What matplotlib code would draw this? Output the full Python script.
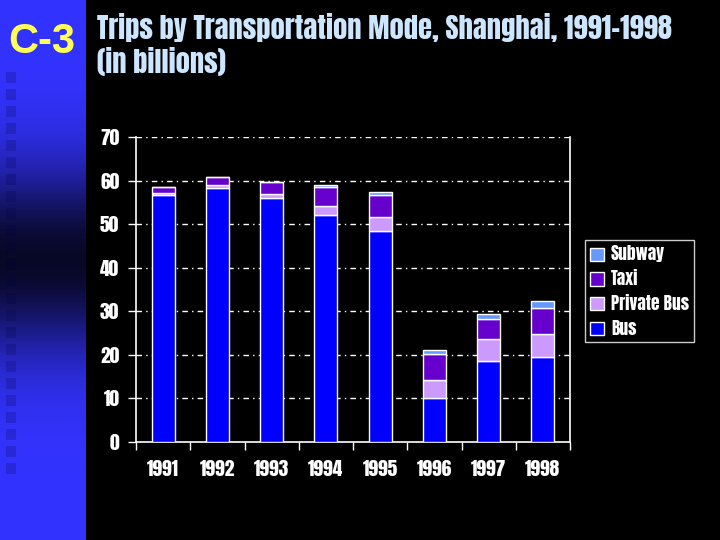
import numpy as np
import matplotlib
matplotlib.use('Agg')
import matplotlib.pyplot as plt
from matplotlib import font_manager
from matplotlib.patches import Rectangle

years = ['1991', '1992', '1993', '1994', '1995', '1996', '1997', '1998']
bus = [56.8, 58.4, 55.9, 52.1, 48.5, 10.0, 18.6, 19.6]
private_bus = [0.3, 0.6, 1.0, 2.1, 3.1, 4.2, 5.0, 5.2]
taxi = [1.35, 1.8, 2.8, 4.4, 5.0, 6.1, 4.7, 6.0]
subway = [0.0, 0.0, 0.0, 0.3, 0.7, 0.9, 1.1, 1.5]

# Impact-like narrow font, take the first one installed
names = {f.name for f in font_manager.fontManager.ttflist}
narrow = 'DejaVu Sans'
for cand in ['Impact', 'Anton', 'Oswald', 'League Gothic', 'Fjalla One', 'Roboto Condensed',
             'Archivo Narrow', 'Pathway Gothic One']:
    if cand in names:
        narrow = cand
        break

fig = plt.figure(figsize=(7.2, 5.4), dpi=100)
fig.patch.set_facecolor('black')

# blue side panel with dark band in the middle
side = fig.add_axes([0, 0, 86 / 720, 1])
ys = np.linspace(0, 1, 300)
dark = np.exp(-((ys - 0.48) / 0.17) ** 2)
col = np.zeros((300, 1, 3))
col[:, 0, 0] = 0.2 * (1 - dark) + 0.03 * dark
col[:, 0, 1] = 0.2 * (1 - dark) + 0.03 * dark
col[:, 0, 2] = 1.0 * (1 - dark) + 0.15 * dark
side.imshow(col, aspect='auto', extent=[0, 86, 540, 0])
for yy in range(72, 480, 17):
    side.add_patch(Rectangle((6, yy), 10, 11, facecolor='#000044', alpha=0.2, lw=0))
side.set_xlim(0, 86)
side.set_ylim(540, 0)
side.axis('off')

ax = fig.add_axes([136 / 720, 98 / 540, 434 / 720, 305 / 540])
ax.set_facecolor('black')
x = np.arange(len(years))
w = 0.42
b1 = np.array(bus)
b2 = b1 + np.array(private_bus)
b3 = b2 + np.array(taxi)
ax.bar(x, bus, w, color='#0000ff', edgecolor='white', lw=1, label='Bus', zorder=3)
ax.bar(x, private_bus, w, bottom=b1, color='#cc99ff', edgecolor='white', lw=1, label='Private Bus', zorder=3)
ax.bar(x, taxi, w, bottom=b2, color='#6600cc', edgecolor='white', lw=1, label='Taxi', zorder=3)
ax.bar(x, subway, w, bottom=b3, color='#6699ff', edgecolor='white', lw=1, label='Subway', zorder=3)

ax.set_xlim(-0.5, 7.5)
ax.set_ylim(0, 70)
ax.set_yticks(range(0, 71, 10))
for v in range(10, 71, 10):
    ax.axhline(v, color='white', lw=1, ls=(0, (4, 3, 1, 3)), zorder=1)

ax.set_xticks(np.arange(-0.5, 8, 1))
ax.set_xticklabels([])
ax.set_xticks(x, minor=True)
ax.set_xticklabels(years, minor=True, fontfamily=narrow, fontsize=14, color='white')
ax.tick_params(axis='x', which='minor', length=0, pad=13)
ax.tick_params(axis='x', which='major', length=6, color='white', width=1)
ax.tick_params(axis='y', length=6, color='white', width=1, pad=6)
for lbl in ax.get_yticklabels():
    lbl.set_fontfamily(narrow)
    lbl.set_fontsize(14)
    lbl.set_color('white')

ax.spines['top'].set_visible(False)
for s in ['left', 'right', 'bottom']:
    ax.spines[s].set_color('white')
    ax.spines[s].set_linewidth(1.2)

handles, labels = ax.get_legend_handles_labels()
leg = fig.legend(handles[::-1], labels[::-1], loc='upper left', bbox_to_anchor=(585 / 720, 1 - 240 / 540),
                 frameon=True, facecolor='black', edgecolor='white', fancybox=False,
                 handlelength=0.8, handleheight=0.8, handletextpad=0.4, labelspacing=0.45,
                 borderpad=0.3, borderaxespad=0, prop={'family': narrow, 'size': 12.5})
for t in leg.get_texts():
    t.set_color('white')

fig.text(8 / 720, 1 - 42 / 540, 'C-3', color='#ffff55', fontsize=30, fontweight='bold',
         fontfamily='Liberation Sans', va='center')
fig.text(97 / 720, 1 - 28 / 540, 'Trips by Transportation Mode, Shanghai, 1991-1998', color='#cce6ff',
         fontsize=20.5, fontfamily=narrow, va='center')
fig.text(97 / 720, 1 - 62 / 540, '(in billions)', color='#cce6ff',
         fontsize=20.5, fontfamily=narrow, va='center')

fig.savefig('out.png', dpi=100, facecolor='black')
